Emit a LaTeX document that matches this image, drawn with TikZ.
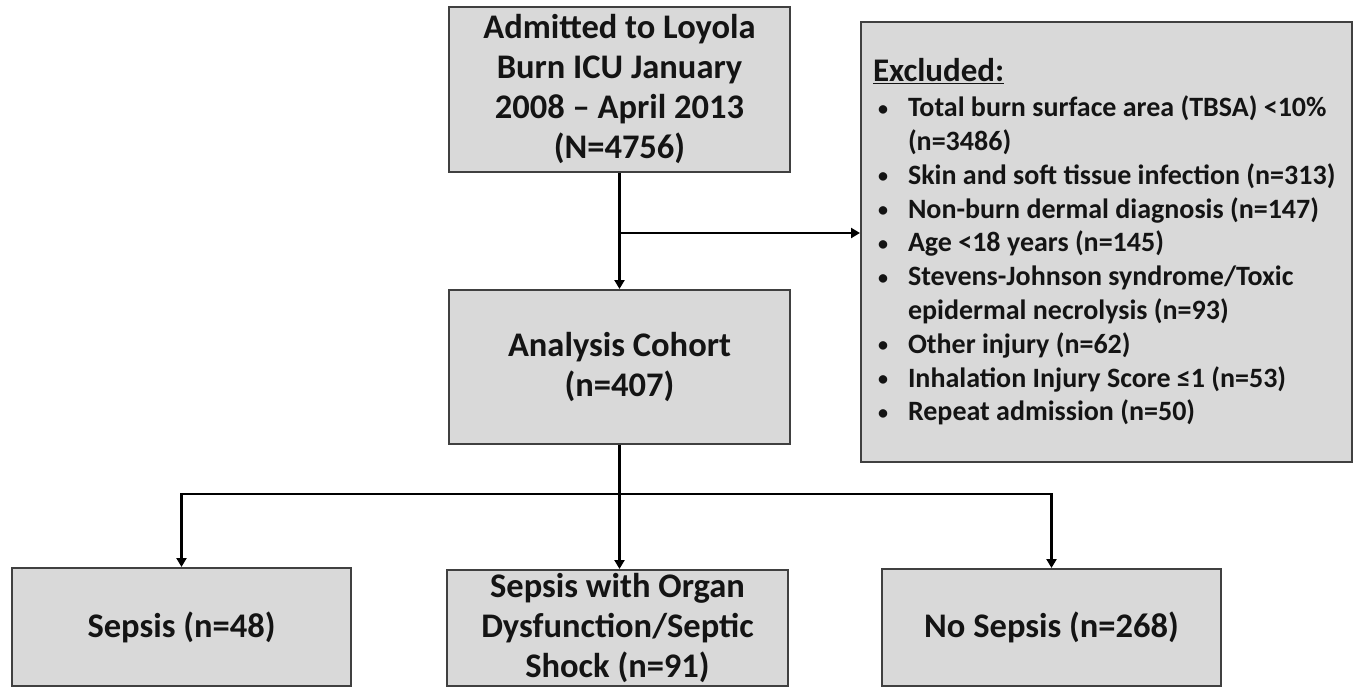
\documentclass[tikz,border=0pt]{standalone}
\usepackage{fontspec}
\setmainfont{Carlito}
\usetikzlibrary{arrows.meta}
\definecolor{boxfill}{HTML}{D9D9D9}
\definecolor{boxline}{HTML}{404040}
\definecolor{txt}{HTML}{141414}
\newcommand{\bul}{\makebox[35pt][l]{\hspace{5pt}\raisebox{1.5pt}{\fontsize{20}{20}\selectfont\bfseries •}}}
\tikzset{
  fbox/.style={draw=boxline, line width=2pt, fill=boxfill, inner sep=0pt,
    text=txt, align=center, font=\fontsize{34.5}{40}\selectfont\bfseries},
  conn/.style={line width=2.6pt, draw=black},
  arr/.style={conn, -{Triangle[length=9pt,width=10pt]}},
}
\begin{document}
\begin{tikzpicture}[x=1pt,y=-1pt]
\useasboundingbox (0,0) rectangle (1360,688);
\node[fbox, minimum width=341pt, minimum height=165pt] (top) at (619.5,89.5)
  {Admitted to Loyola\\Burn ICU January\\2008 -- April 2013\\(N=4756)};
\node[fbox, minimum width=491pt, minimum height=440pt, align=left,
      font=\fontsize{28}{33.8}\selectfont\bfseries] (excl) at (1106.5,242)
  {\begin{minipage}{467pt}
   {\fontsize{33}{36}\selectfont\underline{Excluded:}}\\[1pt]
   \bul Total burn surface area (TBSA) <10\%\\
   \hspace*{35pt}(n=3486)\\
   \bul Skin and soft tissue infection (n=313)\\
   \bul Non-burn dermal diagnosis (n=147)\\
   \bul Age <18 years (n=145)\\
   \bul Stevens-Johnson syndrome/Toxic\\
   \hspace*{35pt}epidermal necrolysis (n=93)\\
   \bul Other injury (n=62)\\
   \bul Inhalation Injury Score ≤1 (n=53)\\
   \bul Repeat admission (n=50)
   \end{minipage}};
\node[fbox, minimum width=341pt, minimum height=154pt] (cohort) at (619.5,367)
  {Analysis Cohort\\(n=407)};
\node[fbox, minimum width=339pt, minimum height=118pt] (sepsis) at (181.5,627)
  {Sepsis (n=48)};
\node[fbox, minimum width=341pt, minimum height=116pt] (organ) at (617.5,628)
  {Sepsis with Organ\\Dysfunction/Septic\\Shock (n=91)};
\node[fbox, minimum width=339pt, minimum height=117pt] (nosep) at (1051.5,627.5)
  {No Sepsis (n=268)};
\coordinate (br) at (619.5,233);
\coordinate (jn) at (619.5,494);
\draw[arr] (top.south) -- (cohort.north);
\draw[arr] (br) -- (excl.west |- br);
\draw[arr] (cohort.south) -- (cohort.south |- organ.north);
\draw[arr] (jn) -| (sepsis.north);
\draw[arr] (jn) -| (nosep.north);
\end{tikzpicture}
\end{document}
